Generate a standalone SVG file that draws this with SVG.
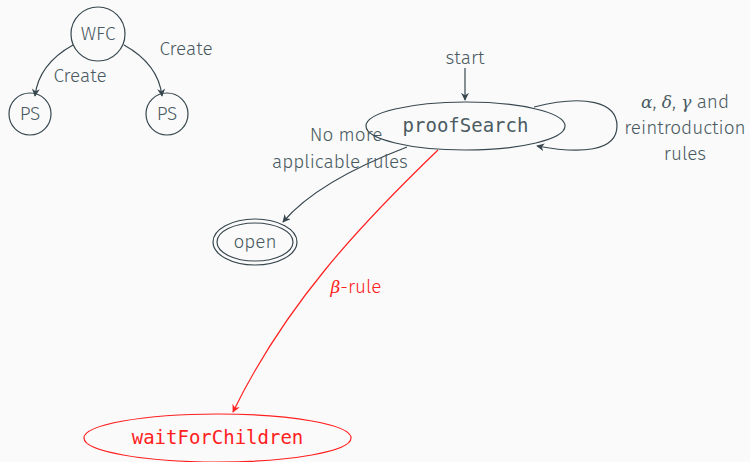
<svg xmlns="http://www.w3.org/2000/svg" width="750" height="462" viewBox="0 0 750 462">
  <style>
    .bg { fill: #fafafa; }
    .node { fill: none; stroke: #37474f; stroke-width: 1.2; }
    .red { stroke: #ff2020; }
    .edge { fill: none; stroke: #37474f; stroke-width: 1.2; }
    .edge.red { stroke: #ff2020; }
    text { font-family: "Fira Sans", "Open Sans", "Noto Sans", sans-serif; font-weight: 300; font-size: 19px; fill: #4a5a62; text-anchor: middle; }
    .mono { font-family: "DejaVu Sans Mono", "Liberation Mono", monospace; font-size: 19px; font-weight: 400; }
    .math { font-family: "DejaVu Serif", "Liberation Serif", serif; font-style: italic; font-weight: 400; font-size: 17px; }
    .redtext { fill: #ff2020; }
  </style>
  <defs>
    <marker id="arr" viewBox="0 0 10 10" refX="9" refY="5" markerWidth="8" markerHeight="8" orient="auto" markerUnits="userSpaceOnUse">
      <path d="M0,0 L10,5 L0,10 L3,5 Z" fill="#37474f"/>
    </marker>
    <marker id="arrRed" viewBox="0 0 10 10" refX="9" refY="5" markerWidth="8" markerHeight="8" orient="auto" markerUnits="userSpaceOnUse">
      <path d="M0,0 L10,5 L0,10 L3,5 Z" fill="#ff2020"/>
    </marker>
  </defs>
  <rect class="bg" x="0" y="0" width="750" height="462"/>

  <g id="connectors">
    <path class="edge" d="M73,45 C55,55 38,70 35,96" marker-end="url(#arr)"/>
    <path class="edge" d="M124,45 C142,55 159,70 162,96" marker-end="url(#arr)"/>
    <path class="edge" d="M465,68 L465,100" marker-end="url(#arr)"/>
    <path class="edge" d="M534,107 C585,94 617,102 617,126 C617,152 580,154 537,146" marker-end="url(#arr)"/>
    <path class="edge" d="M407,147 C360,165 310,190 283,222" marker-end="url(#arr)"/>
    <path class="edge red" d="M438,150 C360,225 285,305 233,412" marker-end="url(#arrRed)"/>
  </g>
  <g id="edge-labels">
    <text x="80" y="82">Create</text>
    <text x="186" y="55">Create</text>
    <text x="465" y="64">start</text>
    <text x="685" y="108"><tspan class="math">α</tspan>, <tspan class="math">δ</tspan>, <tspan class="math">γ</tspan> and</text>
    <text x="685" y="134">reintroduction</text>
    <text x="685" y="160">rules</text>
    <text x="346" y="141">No more</text>
    <text x="340" y="168">applicable rules</text>
    <text x="356" y="293" class="redtext"><tspan class="math">β</tspan>-rule</text>
  </g>

  <g id="wfc">
    <circle class="node" cx="98" cy="34" r="27"/>
    <text x="98" y="40">WFC</text>
  </g>
  <g id="ps-left">
    <circle class="node" cx="30" cy="114" r="21"/>
    <text x="30" y="120">PS</text>
  </g>
  <g id="ps-right">
    <circle class="node" cx="167" cy="114" r="21"/>
    <text x="167" y="120">PS</text>
  </g>
  <g id="proofSearch">
    <ellipse class="node" cx="465.5" cy="126" rx="99.5" ry="24"/>
    <text class="mono" x="465.5" y="132">proofSearch</text>
  </g>
  <g id="open">
    <ellipse class="node" cx="255" cy="242" rx="42" ry="23"/>
    <ellipse class="node" cx="255" cy="242" rx="38" ry="19"/>
    <text x="255" y="248">open</text>
  </g>
  <g id="waitForChildren">
    <ellipse class="node red" cx="217.5" cy="438" rx="133.5" ry="24"/>
    <text class="mono redtext" x="217.5" y="444">waitForChildren</text>
  </g>
</svg>
